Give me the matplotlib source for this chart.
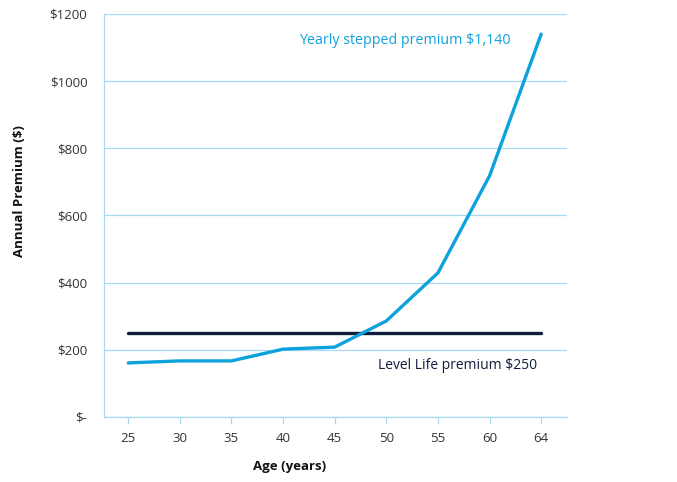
import matplotlib.pyplot as plt
import numpy as np

ages = ['25', '30', '35', '40', '45', '50', '55', '60', '64']
stepped = [161, 167, 167, 202, 208, 286, 429, 718, 1140]
level = [250, 250, 250, 250, 250, 250, 250, 250, 250]
y_ticks = [0, 200, 400, 600, 800, 1000, 1200]
y_labels = ['$-', '$200', '$400', '$600', '$800', '$1000', '$1200']

plt.rcParams['font.family'] = ['Open Sans', 'DejaVu Sans']

grid_col = '#a9d9f2'
light_blue = '#0ea2dd'
navy = '#0f1d3b'

fig = plt.figure(figsize=(6.77, 4.82), dpi=100)
ax = fig.add_axes([0.1536, 0.1349, 0.6839, 0.8361])

x = np.arange(len(ages))
ax.plot(x, level, color=navy, lw=2.4, solid_capstyle='round')
ax.plot(x, stepped, color=light_blue, lw=2.4, solid_capstyle='round')

ax.set_xlim(-0.47, 8.5)
ax.set_ylim(0, 1200)
ax.set_xticks(x)
ax.set_xticklabels(ages)
ax.set_yticks(y_ticks)
ax.set_yticklabels(y_labels)

ax.grid(axis='y', color=grid_col, lw=0.9)
ax.set_axisbelow(True)
for s in ['top', 'right']:
    ax.spines[s].set_visible(False)
for s in ['left', 'bottom']:
    ax.spines[s].set_color(grid_col)
    ax.spines[s].set_linewidth(0.9)

ax.tick_params(axis='x', colors=grid_col, length=5, width=0.9, labelcolor='#333333',
               labelsize=9.5, pad=6)
ax.tick_params(axis='y', length=0, labelcolor='#333333', labelsize=9.5, pad=12)

ax.set_xlabel('Age (years)', fontsize=9.5, fontweight='bold', color='#111111')
ax.xaxis.set_label_coords(0.40, -0.107)
ax.set_ylabel('Annual Premium ($)', fontsize=9.5, fontweight='bold', color='#111111')
ax.yaxis.set_label_coords(-0.168, 0.561)

ax.text(5.36, 1122, 'Yearly stepped premium $1,140', color=light_blue, fontsize=10.3,
        ha='center', va='center')
ax.text(4.84, 153, 'Level Life premium $250', color=navy, fontsize=10,
        ha='left', va='center')

fig.savefig('out.png', dpi=100)
